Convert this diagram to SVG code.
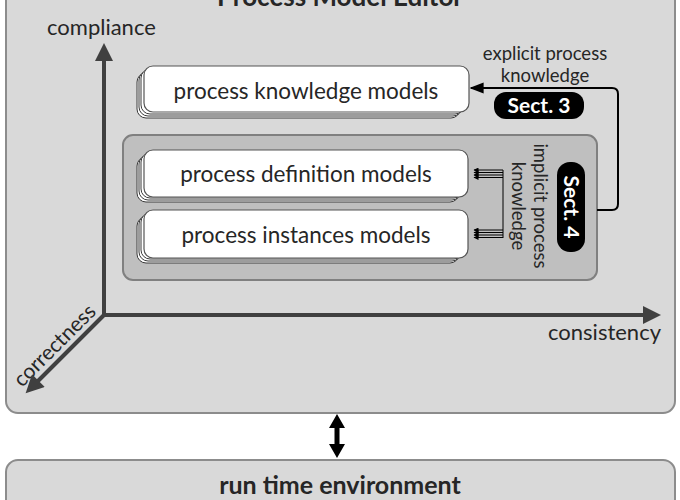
<svg xmlns="http://www.w3.org/2000/svg" width="680" height="500" viewBox="0 0 680 500">
<defs>
<style>
.t{font-family:Lato,"Liberation Sans",sans-serif;fill:#262626}
.b{font-weight:bold}
.panel{fill:#d9d9d9;stroke:#8c8c8c;stroke-width:2}
.inner{fill:#bfbfbf;stroke:#808080;stroke-width:2}
.sh{fill:#fff;stroke:#3a3a3a;stroke-width:1}
.card{fill:#fff;stroke:#555;stroke-width:1.2}
.axis{stroke:#404040;stroke-width:4;fill:none}
.pill{fill:#000}
.pt{font-family:Lato,"Liberation Sans",sans-serif;font-weight:bold;fill:#fff;font-size:21px}
</style>
<marker id="ax" viewBox="0 0 10 10" refX="5" refY="5" markerWidth="5" markerHeight="4.5" orient="auto" markerUnits="strokeWidth"><path d="M0,0 L10,5 L0,10 z" fill="#404040"/></marker>
<marker id="ah" viewBox="0 0 10 10" refX="9" refY="5" markerWidth="7" markerHeight="7" orient="auto" markerUnits="strokeWidth"><path d="M0,1 L10,5 L0,9 z" fill="#000"/></marker>
<marker id="sm" viewBox="0 0 10 10" refX="9" refY="5" markerWidth="8" markerHeight="5" orient="auto" markerUnits="strokeWidth"><path d="M0,0 L10,5 L0,10 z" fill="#000"/></marker>
</defs>

<g id="editor">
<rect class="panel" x="6" y="-20" width="669" height="433" rx="12"/>
<text class="t b" x="340" y="6" font-size="26" text-anchor="middle">Process Model Editor</text>
</g>

<g id="runtime">
<rect class="panel" x="6" y="460" width="669" height="60" rx="12"/>
<text class="t b" x="340" y="494" font-size="25" text-anchor="middle">run time environment</text>
</g>

<g id="axes-labels">
<text class="t" x="47" y="35" font-size="22">compliance</text>
<text class="t" x="661" y="340" font-size="22" text-anchor="end">consistency</text>
<text class="t" x="0" y="0" font-size="21" transform="translate(22,388) rotate(-45)">correctness</text>
</g>

<g id="implicit-box">
<rect class="inner" x="123" y="135" width="474" height="145" rx="10"/>
</g>

<g id="pkm">
<rect class="sh" x="137" y="73" width="323" height="45" rx="9"/>
<rect class="sh" x="139" y="71" width="323" height="45" rx="9"/>
<rect class="sh" x="141" y="69" width="323" height="45" rx="9"/>
<rect class="card" x="144" y="66" width="325" height="46" rx="9"/>
<text class="t" x="306" y="99" font-size="22.5" text-anchor="middle">process knowledge models</text>
</g>

<g id="pdm">
<rect class="sh" x="137" y="157" width="322" height="45" rx="9"/>
<rect class="sh" x="139" y="155" width="322" height="45" rx="9"/>
<rect class="sh" x="141" y="153" width="322" height="45" rx="9"/>
<rect class="card" x="144" y="150" width="324" height="47" rx="9"/>
<text class="t" x="306" y="182" font-size="22.5" text-anchor="middle">process definition models</text>
</g>

<g id="pim">
<rect class="sh" x="137" y="217" width="322" height="46" rx="9"/>
<rect class="sh" x="139" y="215" width="322" height="46" rx="9"/>
<rect class="sh" x="141" y="213" width="322" height="46" rx="9"/>
<rect class="card" x="144" y="210" width="324" height="48" rx="9"/>
<text class="t" x="306" y="243" font-size="22.5" text-anchor="middle">process instances models</text>
</g>

<g id="sect3">
<text class="t" x="545" y="60" font-size="18.5" text-anchor="middle">explicit process</text>
<text class="t" x="545" y="82" font-size="18.5" text-anchor="middle">knowledge</text>
<rect class="pill" x="494" y="92" width="90" height="27" rx="12"/>
<text class="pt" x="539" y="113" text-anchor="middle">Sect. 3</text>
</g>

<g id="sect4">
<g transform="translate(571,207) rotate(90)">
<rect class="pill" x="-45" y="-14" width="90" height="28" rx="13"/>
<text class="pt" x="0" y="7.5" text-anchor="middle">Sect. 4</text>
</g>
<text class="t" x="0" y="0" font-size="18.5" text-anchor="middle" transform="translate(534,206) rotate(90)">implicit process</text>
<text class="t" x="0" y="0" font-size="18.5" text-anchor="middle" transform="translate(512,206) rotate(90)">knowledge</text>
</g>

<g id="connectors">
<line class="axis" x1="104" y1="317" x2="104" y2="52" marker-end="url(#ax)"/>
<line class="axis" x1="102" y1="315" x2="652" y2="315" marker-end="url(#ax)"/>
<line class="axis" x1="104" y1="315" x2="32" y2="387" marker-end="url(#ax)"/>
<path d="M597,210 H612 Q618,210 618,204 V94 Q618,88 612,88 H471" fill="none" stroke="#000" stroke-width="2" marker-end="url(#ah)"/>
<g stroke="#000" stroke-width="1" fill="none">
<path d="M503,170 V238"/>
<line x1="503" y1="170" x2="474" y2="170" marker-end="url(#sm)"/>
<line x1="503" y1="172.5" x2="474" y2="172.5" marker-end="url(#sm)"/>
<line x1="503" y1="175" x2="474" y2="175" marker-end="url(#sm)"/>
<line x1="503" y1="177.5" x2="474" y2="177.5" marker-end="url(#sm)"/>
<line x1="503" y1="230" x2="474" y2="230" marker-end="url(#sm)"/>
<line x1="503" y1="232.5" x2="474" y2="232.5" marker-end="url(#sm)"/>
<line x1="503" y1="235" x2="474" y2="235" marker-end="url(#sm)"/>
<line x1="503" y1="237.5" x2="474" y2="237.5" marker-end="url(#sm)"/>
</g>
<path d="M337,414 L345,428 L339.5,428 L339.5,444 L345,444 L337,458 L329,444 L334.5,444 L334.5,428 L329,428 Z" fill="#000"/>
</g>
</svg>
